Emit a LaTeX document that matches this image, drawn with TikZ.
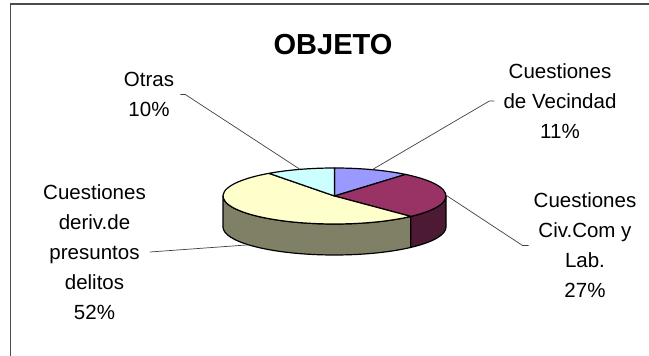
\documentclass[tikz,border=0pt]{standalone}
\usepackage{fontspec}
\setmainfont{Liberation Sans}
\usetikzlibrary{positioning}
\definecolor{vecin}{HTML}{9999FF}
\definecolor{civil}{HTML}{993366}
\definecolor{civilside}{HTML}{4C1A33}
\definecolor{delito}{HTML}{FFFFCC}
\definecolor{delitoside}{HTML}{808066}
\definecolor{otras}{HTML}{CCFFFF}
\tikzset{
  pieedge/.style={draw=black, line width=1.2pt, line join=round},
  lbl/.style={align=center, inner sep=2pt},
  leader/.style={draw=black!75, line width=0.7pt}
}
\begin{document}
\begin{tikzpicture}[x=1pt, y=1pt, font=\fontsize{20.5}{30}\selectfont]
\useasboundingbox (0,0) rectangle (649,356);

% frame
\draw[line width=1.5pt, black!70] (10.5,-5) -- (10.5,352) -- (655,352);

\node[font=\fontsize{29}{34}\selectfont\bfseries] (titulo) at (333,311) {OBJETO};

% pie, sides first
\coordinate (pie) at (334.5,160);
\filldraw[pieedge, fill=delitoside] ([shift={(180:111.5pt and 28pt)}]pie)
  arc[start angle=180, end angle=313.2, x radius=111.5pt, y radius=28pt] -- ++(0,-31)
  arc[start angle=313.2, end angle=180, x radius=111.5pt, y radius=28pt] -- cycle;
\filldraw[pieedge, fill=civilside] ([shift={(313.2:111.5pt and 28pt)}]pie)
  arc[start angle=313.2, end angle=360, x radius=111.5pt, y radius=28pt] -- ++(0,-31)
  arc[start angle=360, end angle=313.2, x radius=111.5pt, y radius=28pt] -- cycle;
\foreach \a/\b/\c in {90/50.4/vecin, 50.4/-46.8/civil, -46.8/-234/delito, -234/-270/otras}
  \filldraw[pieedge, fill=\c] (pie) -- ([shift={(\a:111.5pt and 28pt)}]pie)
    arc[start angle=\a, end angle=\b, x radius=111.5pt, y radius=28pt] -- cycle;

\coordinate (vecinpt) at ([shift={(70.2:111.5pt and 28pt)}]pie);
\coordinate (civilpt) at ([shift={(1.8:111.5pt and 28pt)}]pie);
\coordinate (delitopt) at ([shift={(-140.4:111.5pt and 28pt)}, yshift=-31pt]pie);
\coordinate (otraspt) at ([shift={(108:111.5pt and 28pt)}]pie);

% labels
\node[lbl] (vecinlbl) at (560,255) {Cuestiones\\de Vecindad\\11\%};
\node[lbl] (civillbl) at (585,110.5) {Cuestiones\\Civ.Com y\\Lab.\\27\%};
\node[lbl] (delitolbl) at (94.5,104) {Cuestiones\\deriv.de\\presuntos\\delitos\\52\%};
\node[lbl] (otraslbl) at (149,261.5) {Otras\\10\%};

\draw[leader] ([xshift=-7pt]vecinlbl.west) -- ++(-5,0) -- (vecinpt);
\draw[leader] ([xshift=-3pt]civillbl.west) -- ++(-6,0) -- (civilpt);
\draw[leader] ([xshift=2pt]delitolbl.east) -- (delitopt);
\draw[leader] ([xshift=4pt]otraslbl.east) -- ++(5,0) -- (otraspt);

\end{tikzpicture}
\end{document}
